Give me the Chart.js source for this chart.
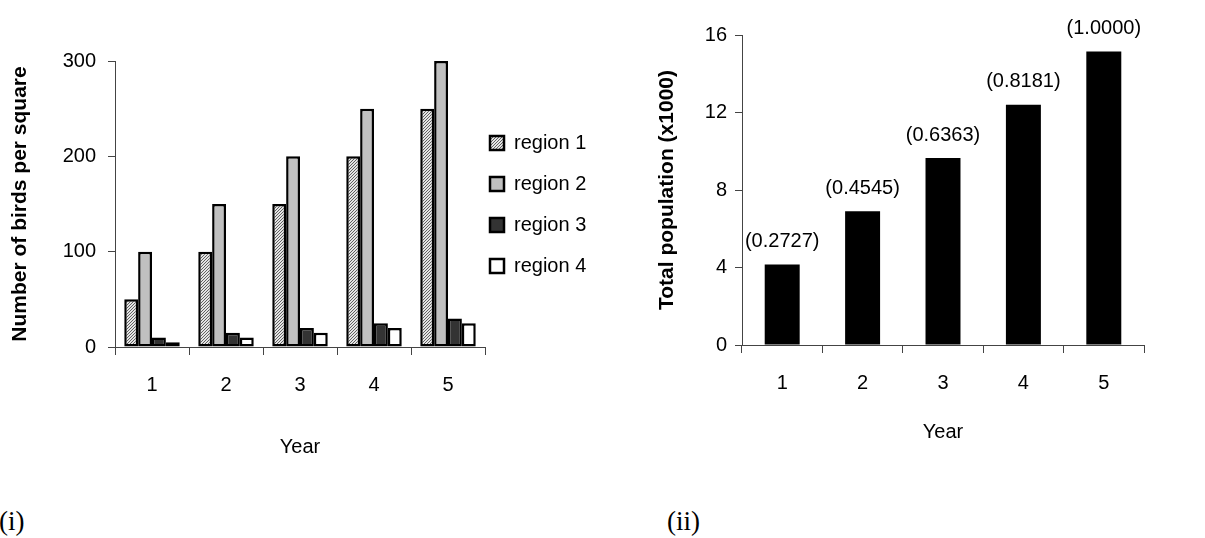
<!DOCTYPE html>
<html>
<head>
<meta charset="utf-8">
<script src="https://cdn.jsdelivr.net/npm/chart.js@4/dist/chart.umd.min.js"></script>
<style>
  html, body { margin: 0; padding: 0; background: #fff; }
  body { width: 1205px; height: 538px; position: relative; overflow: hidden; }
  .box { position: absolute; top: 0; height: 480px; }
  #leftBox { left: 0; width: 600px; }
  #rightBox { left: 620px; width: 585px; }
  .tag { position: absolute; top: 506px; font: 27px/30px 'Liberation Serif', 'Times New Roman', serif; color: #000; }
</style>
</head>
<body>
<div class="box" id="leftBox"><canvas id="birdsChart"></canvas></div>
<div class="box" id="rightBox"><canvas id="popChart"></canvas></div>
<div class="tag" style="left:-1px">(i)</div>
<div class="tag" style="left:667px">(ii)</div>
<script>
const years = ['1', '2', '3', '4', '5'];
const region1 = [50, 100, 150, 200, 250];
const region2 = [100, 150, 200, 250, 300];
const region3 = [10, 15, 20, 25, 30];
const region4 = [5, 10, 15, 20, 25];

const totalPop = [4.15, 6.9, 9.65, 12.4, 15.15];
const popLabels = ['(0.2727)', '(0.4545)', '(0.6363)', '(0.8181)', '(1.0000)'];

const FONT = "'Liberation Sans', Arial, sans-serif";
const AXIS = '#444';
Chart.defaults.font.family = FONT;
Chart.defaults.color = '#000';
Chart.defaults.animation = false;

function hatchPattern() {
  const c = document.createElement('canvas');
  c.width = 3;
  c.height = 3;
  const g = c.getContext('2d');
  g.fillStyle = '#e4e4e4';
  g.fillRect(0, 0, 3, 3);
  g.fillStyle = '#606060';
  g.fillRect(2, 0, 1, 1);
  g.fillRect(1, 1, 1, 1);
  g.fillRect(0, 2, 1, 1);
  return g.createPattern(c, 'repeat');
}

// legend sits just right of the plot, a bit below centre
const legendPlace = {
  id: 'legendPlace',
  afterLayout(chart) {
    const lg = chart.legend;
    const pad = chart.options.plugins.legend.labels.padding;
    const h = lg.height;
    lg.left = 490 - pad;
    lg.top = 133 - pad;
    lg.right = 600;
    lg.bottom = lg.top + h;
  },
};

const axisY = (max, step, titleText, titlePad, width, tickPad) => ({
  min: 0,
  max: max,
  afterFit: (s) => { s.width = width; },
  border: { display: true, color: AXIS, width: 1 },
  grid: { drawOnChartArea: false, drawTicks: true, tickLength: 7, color: AXIS },
  ticks: { stepSize: step, padding: tickPad, color: '#000', font: { size: 20 } },
  title: {
    display: true,
    text: titleText,
    color: '#000',
    font: { size: 21, weight: 'bold' },
    padding: { top: titlePad, bottom: 0 },
  },
});

const axisX = (height, titleBottom) => ({
  afterFit: (s) => { s.height = height; },
  border: { display: true, color: AXIS, width: 1 },
  grid: { drawOnChartArea: false, drawTicks: true, tickLength: 8, color: AXIS, offset: true },
  ticks: { padding: 18, color: '#000', font: { size: 20 }, maxRotation: 0 },
  title: {
    display: true,
    text: 'Year',
    color: '#000',
    font: { size: 20 },
    padding: { top: 0, bottom: titleBottom },
  },
});

const birdsCanvas = document.querySelector('#birdsChart');
const hatch = hatchPattern();

new Chart(birdsCanvas, {
  type: 'bar',
  data: {
    labels: years,
    datasets: [
      { label: 'region 1', data: region1, backgroundColor: hatch },
      { label: 'region 2', data: region2, backgroundColor: '#c0c0c0' },
      { label: 'region 3', data: region3, backgroundColor: '#333333' },
      { label: 'region 4', data: region4, backgroundColor: '#ffffff' },
    ].map((d) => ({
      ...d,
      borderColor: '#000',
      borderWidth: 2.5,
      borderSkipped: false,
      categoryPercentage: 0.75,
      barPercentage: 1,
    })),
  },
  options: {
    responsive: true,
    maintainAspectRatio: false,
    layout: { padding: { top: 61, left: 0, right: 0, bottom: 0 } },
    scales: {
      x: axisX(133, 21),
      y: axisY(300, 100, 'Number of birds per square', 8, 115, 12),
    },
    plugins: {
      legend: {
        display: true,
        position: 'right',
        align: 'start',
        maxWidth: 115,
        labels: {
          boxWidth: 14,
          boxHeight: 14,
          padding: 21,
          color: '#000',
          font: { size: 20 },
        },
      },
      tooltip: { enabled: false },
    },
  },
  plugins: [legendPlace],
});

// numbers in brackets over each bar
const barNotes = {
  id: 'barNotes',
  afterDatasetsDraw(chart) {
    const { ctx } = chart;
    const meta = chart.getDatasetMeta(0);
    ctx.save();
    ctx.font = '20px ' + FONT;
    ctx.fillStyle = '#000';
    ctx.textAlign = 'center';
    ctx.textBaseline = 'middle';
    meta.data.forEach((bar, i) => {
      ctx.fillText(popLabels[i], bar.x, bar.y - 23);
    });
    ctx.restore();
  },
};

const popCanvas = document.querySelector('#popChart');

new Chart(popCanvas, {
  type: 'bar',
  data: {
    labels: years,
    datasets: [
      {
        label: 'Total population',
        data: totalPop,
        backgroundColor: '#000',
        borderWidth: 0,
        categoryPercentage: 1,
        barPercentage: 0.435,
      },
    ],
  },
  options: {
    responsive: true,
    maintainAspectRatio: false,
    layout: { padding: { top: 35, left: 0, right: 61, bottom: 0 } },
    scales: {
      x: axisX(135, 36),
      y: axisY(16, 4, 'Total population (x1000)', 35, 122, 8),
    },
    plugins: {
      legend: { display: false },
      tooltip: { enabled: false },
    },
  },
  plugins: [barNotes],
});
</script>
</body>
</html>
